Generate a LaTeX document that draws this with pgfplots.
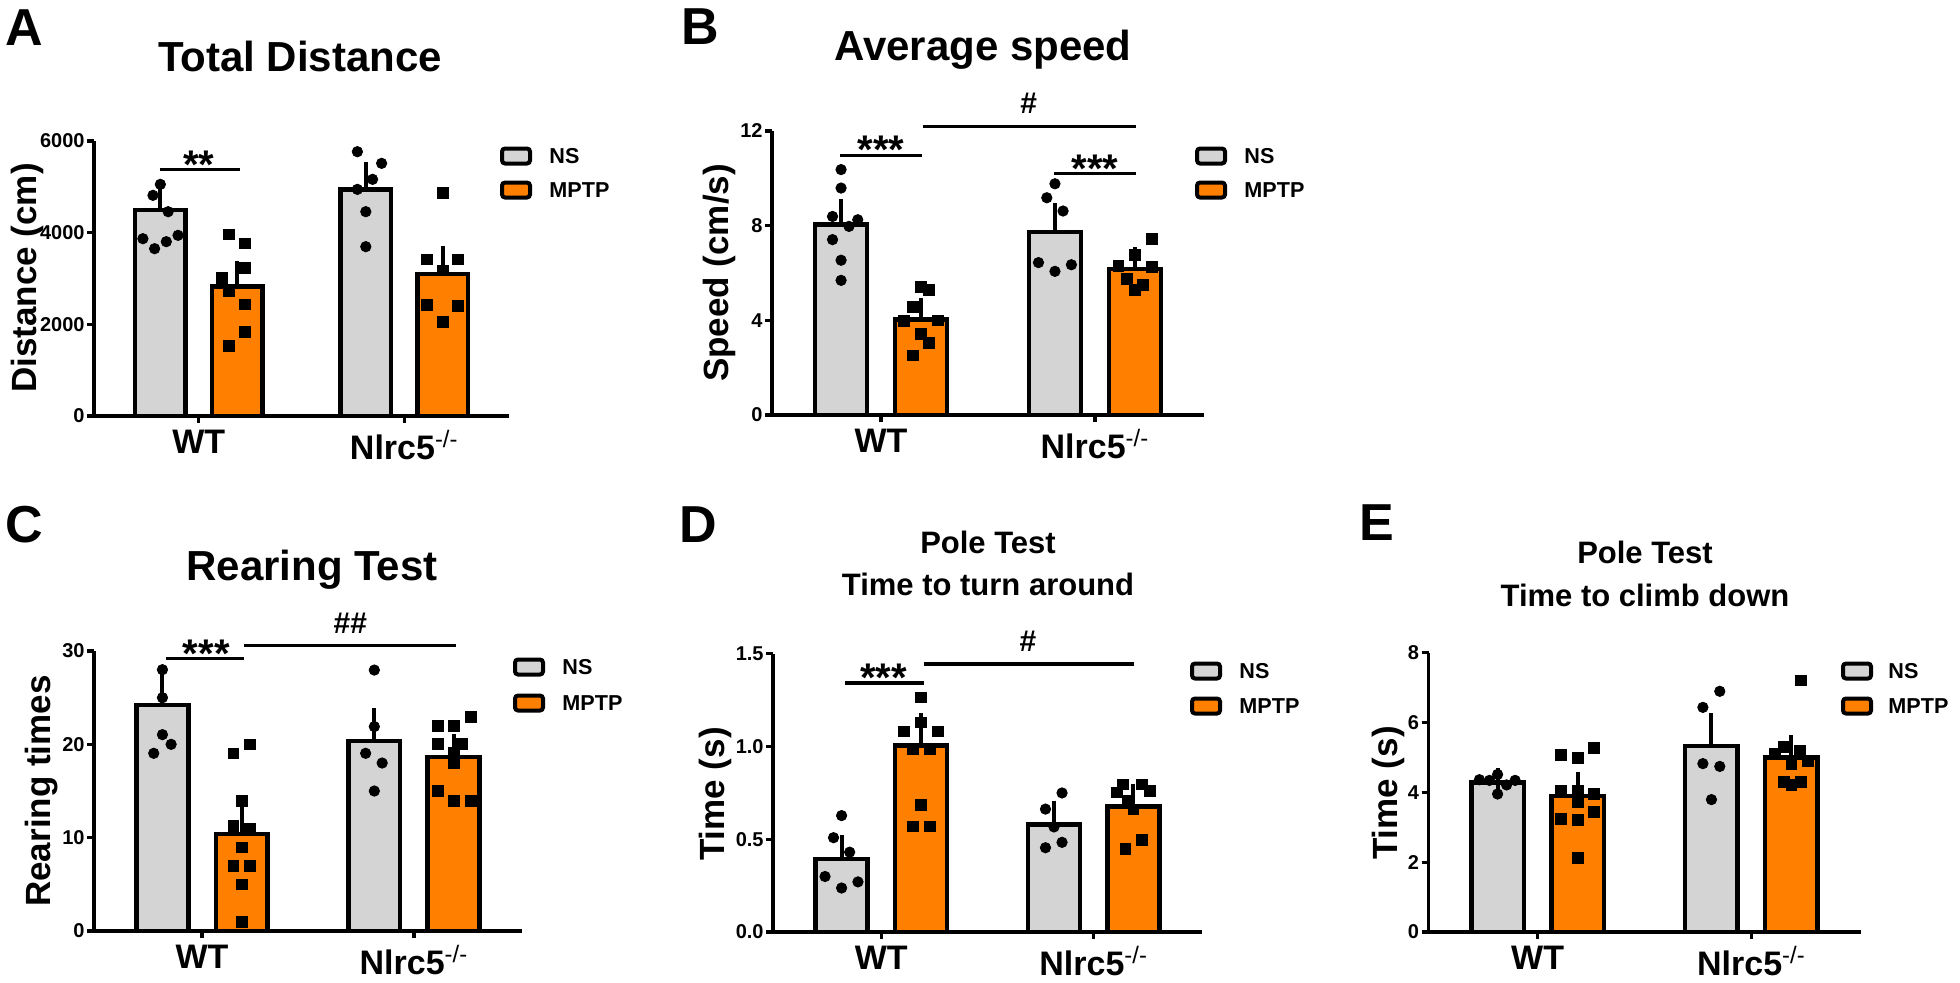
\documentclass[border=0pt]{standalone}
\usepackage{fontspec}
\setmainfont{Liberation Sans}
\usepackage{pgfplots}
\pgfplotsset{compat=1.18}
\definecolor{nsgray}{RGB}{212,212,212}
\definecolor{mptp}{RGB}{255,128,0}

\pgfplotsset{
  panel/.style={
    scale only axis, anchor=south west,
    xmin=0.49, xmax=2.51, ymin=0,
    axis x line*=bottom, axis y line*=left,
    axis line style={-, line width=1.6pt, black},
    xtick={1,2},
    xticklabels={WT, Nlrc5\textsuperscript{\mdseries -/-}},
    tick align=outside, major tick length=3.5pt,
    tick style={line width=1.6pt, black},
    minor tick num=0, clip=false,
    /pgf/number format/assume math mode=true,
    yticklabel style={font=\bfseries\fontsize{10}{12}\selectfont, inner sep=1pt},
    xticklabel style={font=\bfseries\fontsize{17}{20}\selectfont},
  },
  bars/.style={ybar, bar width=0.245, bar shift=0pt, fill=#1, draw=black, line width=2.2pt,
    error bars/.cd, y dir=plus, y explicit,
    error bar style={line width=2pt, black},
    error mark options={line width=2pt, black, mark size=6pt}},
  dots/.style={only marks, mark=*, mark size=2.6pt, black},
  sqs/.style={only marks, mark=square*, mark size=2.7pt, black},
}
\tikzset{
  sig/.style={line width=1.7pt},
  star/.style={anchor=south, inner sep=0pt, yshift=-4.5pt, font=\bfseries\fontsize{20}{24}\selectfont},
  hash/.style={anchor=south, inner sep=0pt, yshift=6pt, font=\bfseries\fontsize{15}{18}\selectfont},
  ttl/.style={anchor=base, inner sep=0pt, font=\bfseries\fontsize{21}{25}\selectfont},
  ttlb/.style={anchor=base, inner sep=0pt, font=\bfseries\fontsize{15.5}{18}\selectfont},
  letter/.style={anchor=north west, inner sep=0pt, font=\bfseries\fontsize{26}{30}\selectfont},
  ylab/.style={rotate=90, anchor=base, inner sep=0pt, font=\bfseries\fontsize{17.5}{20}\selectfont},
  legtxt/.style={anchor=west, inner sep=0pt, font=\bfseries\fontsize{10.8}{13}\selectfont},
  legbox/.style={line width=2pt, rounded corners=1.5pt},
}

\begin{document}
\begin{tikzpicture}
\useasboundingbox (0,0) rectangle (980pt,-491pt);

% ---------- A: Total Distance
\begin{axis}[panel, at={(47pt,-208pt)}, width=207.5pt, height=137.5pt,
  ymax=6000, ytick={0,2000,4000,6000}, scaled y ticks=false,
  yticklabel style={/pgf/number format/1000 sep={}}]
\addplot[bars=nsgray] coordinates {(0.813,4490) +- (0,325) (1.813,4945) +- (0,328)};
\addplot[bars=mptp] coordinates {(1.187,2822) +- (0,305) (2.187,3105) +- (0,350)};
\addplot[dots] coordinates {(0.813,5055) (0.777,4815) (0.851,4458) (0.728,3869) (0.785,3651) (0.842,3804) (0.899,3942)
  (1.772,5767) (1.890,5513) (1.846,5164) (1.772,4945) (1.813,4458) (1.813,3695)};
\addplot[sqs] coordinates {(1.148,3964) (1.226,3767) (1.226,3236) (1.112,3018) (1.148,2727) (1.226,2436) (1.226,1833) (1.148,1527)
  (2.187,4873) (2.112,3418) (2.260,3418) (2.187,3178) (2.112,2422) (2.260,2400) (2.187,2051)};
\draw[sig] (axis cs:0.81,5380) -- (axis cs:1.20,5380);
\node[star] at (axis cs:1.0,5380) {**};
\end{axis}

% ---------- B: Average speed
\begin{axis}[panel, at={(386pt,-207.5pt)}, width=216pt, height=142pt,
  ymax=12, ytick={0,4,8,12}]
\addplot[bars=nsgray] coordinates {(0.813,8.05) +- (0,0.57) (1.813,7.73) +- (0,0.71)};
\addplot[bars=mptp] coordinates {(1.187,4.04) +- (0,0.38) (2.187,6.18) +- (0,0.42)};
\addplot[dots] coordinates {(0.813,10.37) (0.813,9.59) (0.773,8.39) (0.891,8.25) (0.850,7.97) (0.773,7.41) (0.813,6.54) (0.813,5.69)
  (1.813,9.77) (1.775,9.18) (1.851,8.62) (1.736,6.44) (1.813,6.07) (1.890,6.35)};
\addplot[sqs] coordinates {(1.187,5.41) (1.224,5.27) (1.149,4.56) (1.106,3.97) (1.267,4.00) (1.187,3.44) (1.225,3.06) (1.149,2.52)
  (2.265,7.45) (2.187,6.75) (2.110,6.30) (2.265,6.25) (2.150,5.75) (2.225,5.50) (2.187,5.30)};
\draw[sig] (axis cs:0.81,10.97) -- (axis cs:1.19,10.97);
\node[star] at (axis cs:1.0,10.97) {***};
\draw[sig] (axis cs:1.195,12.2) -- (axis cs:2.19,12.2);
\node[hash] at (axis cs:1.69,12.2) {\#};
\draw[sig] (axis cs:1.81,10.2) -- (axis cs:2.19,10.2);
\node[star] at (axis cs:2.0,10.2) {***};
\end{axis}

% ---------- C: Rearing Test
\begin{axis}[panel, at={(47pt,-465.5pt)}, width=214pt, height=140pt,
  ymax=30, ytick={0,10,20,30}]
\addplot[bars=nsgray] coordinates {(0.813,24.23) +- (0,2.37) (1.813,20.38) +- (0,2.2)};
\addplot[bars=mptp] coordinates {(1.187,10.38) +- (0,1.92) (2.187,18.65) +- (0,1.15)};
\addplot[dots] coordinates {(0.813,28.0) (0.813,25.0) (0.813,21.04) (0.854,20.0) (0.772,19.04)
  (1.813,27.96) (1.813,21.9) (1.772,19.04) (1.850,18.0) (1.813,15.0)};
\addplot[sqs] coordinates {(1.148,19.04) (1.224,20.0) (1.187,13.96) (1.148,11.23) (1.224,10.96) (1.187,8.96) (1.148,7.0) (1.224,7.0) (1.187,5.0) (1.187,0.96)
  (2.113,22.0) (2.187,22.0) (2.268,22.96) (2.113,20.08) (2.228,20.08) (2.187,19.1) (2.187,17.96) (2.113,15.0) (2.187,13.96) (2.268,13.96)};
\draw[sig] (axis cs:0.83,29.2) -- (axis cs:1.20,29.2);
\node[star] at (axis cs:1.02,29.2) {***};
\draw[sig] (axis cs:1.20,30.57) -- (axis cs:2.20,30.57);
\node[hash] at (axis cs:1.70,30.57) {\#\#};
\end{axis}

% ---------- D: Pole test, turn around
\begin{axis}[panel, at={(386.5pt,-466pt)}, width=214.5pt, height=139.25pt,
  ymax=1.5, ytick={0,0.5,1,1.5},
  yticklabel style={/pgf/number format/.cd, fixed, fixed zerofill, precision=1}]
\addplot[bars=nsgray] coordinates {(0.813,0.392) +- (0,0.067) (1.813,0.579) +- (0,0.064)};
\addplot[bars=mptp] coordinates {(1.187,1.004) +- (0,0.11) (2.187,0.675) +- (0,0.055)};
\addplot[dots] coordinates {(0.813,0.627) (0.775,0.508) (0.851,0.430) (0.735,0.299) (0.813,0.237) (0.890,0.270)
  (1.851,0.749) (1.773,0.662) (1.813,0.566) (1.773,0.454) (1.851,0.483)};
\addplot[sqs] coordinates {(1.187,1.264) (1.187,1.129) (1.107,1.081) (1.267,1.081) (1.147,0.985) (1.227,0.985) (1.187,0.685) (1.147,0.569) (1.227,0.569)
  (2.139,0.795) (2.228,0.795) (2.109,0.752) (2.265,0.759) (2.161,0.705) (2.187,0.660) (2.149,0.449) (2.228,0.495)};
\draw[sig] (axis cs:0.83,1.342) -- (axis cs:1.20,1.342);
\node[star] at (axis cs:1.01,1.342) {***};
\draw[sig] (axis cs:1.20,1.444) -- (axis cs:2.19,1.444);
\node[hash] at (axis cs:1.69,1.444) {\#};
\end{axis}

% ---------- E: Pole test, climb down
\begin{axis}[panel, at={(714.25pt,-466pt)}, width=216pt, height=139.75pt,
  ymax=8, ytick={0,2,4,6,8}]
\addplot[bars=nsgray] coordinates {(0.813,4.28) +- (0,0.08) (1.813,5.33) +- (0,0.59)};
\addplot[bars=mptp] coordinates {(1.187,3.90) +- (0,0.34) (2.187,5.00) +- (0,0.30)};
\addplot[dots] coordinates {(0.728,4.36) (0.775,4.34) (0.813,4.51) (0.855,4.21) (0.895,4.34) (0.813,3.95)
  (1.852,6.89) (1.773,6.43) (1.773,4.82) (1.852,4.74) (1.813,3.79)};
\addplot[sqs] coordinates {(1.110,5.08) (1.187,4.99) (1.263,5.28) (1.110,4.03) (1.187,4.05) (1.263,3.95) (1.187,3.72) (1.110,3.23) (1.187,3.20) (1.263,3.44) (1.187,2.13)
  (2.230,7.20) (2.150,5.30) (2.225,5.20) (2.110,5.10) (2.265,4.90) (2.187,4.80) (2.150,4.30) (2.230,4.30) (2.187,4.20)};
\end{axis}

\begin{scope}[x=0.5pt,y=-0.5pt]
% ---------- panel letters and titles
\node[letter] at (5,9) {A};
\node[letter] at (681,8) {B};
\node[letter] at (5,506) {C};
\node[letter] at (679,506) {D};
\node[letter] at (1359,504) {E};

\node[ttl] at (300,71) {Total Distance};
\node[ttl] at (983,60) {Average speed};
\node[ttl] at (312,580) {Rearing Test};
\node[ttlb] at (988,553) {Pole Test};
\node[ttlb] at (988,595) {Time to turn around};
\node[ttlb] at (1645,563) {Pole Test};
\node[ttlb] at (1645,606) {Time to climb down};

% ---------- y labels
\node[ylab] at (36,278) {Distance (cm)};
\node[ylab] at (728,273) {Speed (cm/s)};
\node[ylab] at (50,791) {Rearing times};
\node[ylab] at (724.6,794) {Time (s)};
\node[ylab] at (1397,793) {Time (s)};

% ---------- legends
\foreach \bx/\tx/\ya/\yb in {502/549/156/190, 1197/1244/156/190, 515/562/667/703, 1192/1239/671/706, 1843/1888/671/706}{
  \draw[legbox, fill=nsgray] (\bx,\ya-7.5) rectangle (\bx+28,\ya+7.5);
  \draw[legbox, fill=mptp] (\bx,\yb-7.5) rectangle (\bx+28,\yb+7.5);
  \node[legtxt] at (\tx,\ya) {NS};
  \node[legtxt] at (\tx,\yb) {MPTP};
}
\end{scope}
\end{tikzpicture}
\end{document}
